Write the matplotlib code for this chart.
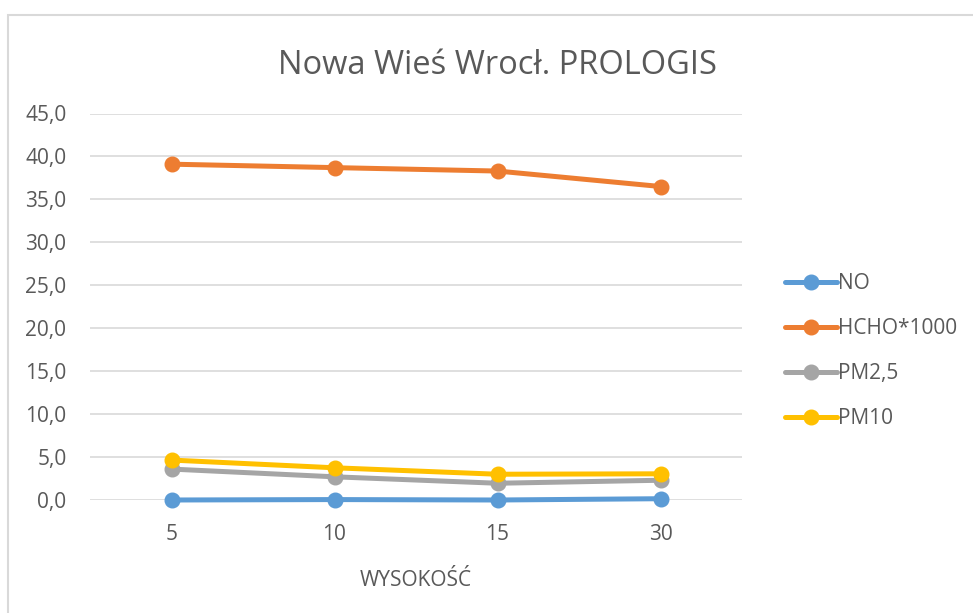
import matplotlib
matplotlib.use("Agg")
import matplotlib.pyplot as plt
from matplotlib.patches import Rectangle
from matplotlib.ticker import FuncFormatter

categories = ["5", "10", "15", "30"]
series_names = ["NO", "HCHO*1000", "PM2,5", "PM10"]
no_vals = [0.0, 0.05, 0.0, 0.15]
hcho_vals = [39.1, 38.7, 38.3, 36.5]
pm25_vals = [3.6, 2.7, 1.95, 2.3]
pm10_vals = [4.65, 3.75, 3.0, 3.05]
colors = ["#5b9bd5", "#ed7d31", "#a5a5a5", "#ffc000"]

plt.rcParams['font.family'] = ['Open Sans', 'DejaVu Sans']
TXT = "#595959"

W, H = 973, 613
fig = plt.figure(figsize=(W / 100, H / 100), dpi=100)
fig.patches.append(Rectangle((7.5 / W, -0.1), 1.2, 1 - 15.5 / H + 0.1,
                             transform=fig.transFigure, fill=False,
                             edgecolor="#d9d9d9", linewidth=1.5, zorder=0))

left, right = 90 / W, 742 / W
bottom, top = 1 - 500 / H, 1 - 113.5 / H
ax = fig.add_axes([left, bottom, right - left, top - bottom])

x = list(range(len(categories)))
for vals, name, c in zip([no_vals, hcho_vals, pm25_vals, pm10_vals], series_names, colors):
    ax.plot(x, vals, color=c, linewidth=3.6, marker="o", markersize=10.5,
            label=name, solid_capstyle="round", clip_on=False, zorder=3)

ax.set_xlim(-0.5, len(categories) - 0.5)
ax.set_ylim(0, 45)
ax.set_yticks([i * 5 for i in range(10)])
ax.yaxis.set_major_formatter(FuncFormatter(lambda v, p: f"{v:.1f}".replace(".", ",")))
ax.set_xticks(x)
ax.set_xticklabels(categories)
ax.grid(axis="y", color="#d9d9d9", linewidth=1.2)
ax.set_axisbelow(True)
for s in ax.spines.values():
    s.set_visible(False)
ax.tick_params(length=0, labelsize=15, labelcolor=TXT)
ax.tick_params(axis="y", pad=17)
ax.tick_params(axis="x", pad=17)
ax.set_xlabel("WYSOKOŚĆ", fontsize=15, color=TXT, labelpad=18)

fig.text(497 / W, 1 - 65 / H, "Nowa Wieś Wrocł. PROLOGIS", ha="center", va="center",
         fontsize=23.5, color=TXT)

leg = ax.legend(loc="center left", bbox_to_anchor=(1.037, 0.385), frameon=False,
                fontsize=15, labelspacing=1.15, handlelength=2.5,
                handletextpad=0.05, labelcolor=TXT)

fig.savefig("out.png", dpi=100)
